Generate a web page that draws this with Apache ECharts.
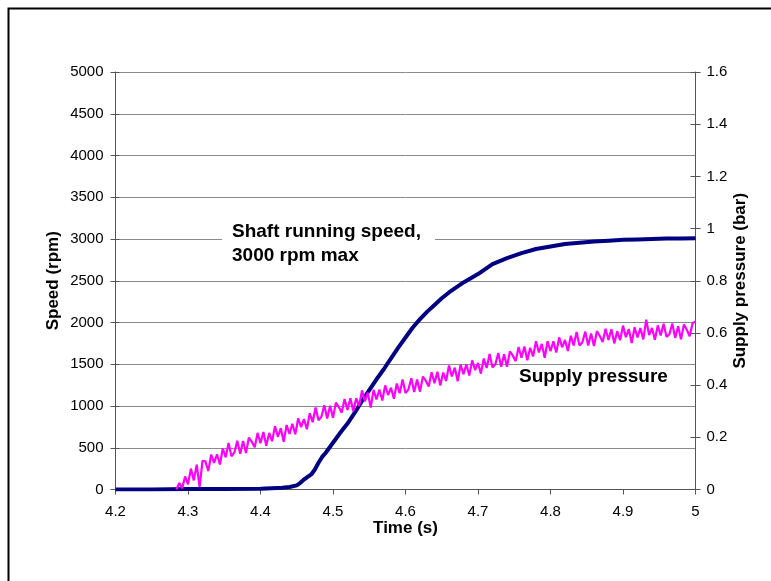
<!DOCTYPE html>
<html>
<head>
<meta charset="utf-8">
<script src="https://cdn.jsdelivr.net/npm/echarts@6/dist/echarts.min.js"></script>
<style>html,body{margin:0;padding:0;background:#fff;}#c{width:771px;height:581px;}</style>
</head>
<body>
<div id="c"></div>
<script>
// Time axis ticks
const timeTicks = [4.2, 4.3, 4.4, 4.5, 4.6, 4.7, 4.8, 4.9, 5.0];
// Shaft running speed (rpm) vs time (s)
const speedTime = [4.20, 4.25, 4.30, 4.35, 4.40, 4.43, 4.44, 4.45, 4.455, 4.46, 4.465, 4.47, 4.475, 4.48, 4.485, 4.49, 4.495, 4.50, 4.51, 4.52, 4.53, 4.54, 4.55, 4.56, 4.57, 4.58, 4.59, 4.60, 4.61, 4.62, 4.63, 4.64, 4.65, 4.66, 4.67, 4.68, 4.69, 4.70, 4.72, 4.74, 4.76, 4.78, 4.80, 4.82, 4.84, 4.86, 4.88, 4.90, 4.92, 4.94, 4.96, 4.98, 5.00];
const speedRpm = [0, 0, 5, 5, 10, 20, 30, 50, 80, 120, 150, 180, 240, 320, 390, 440, 500, 560, 680, 790, 920, 1060, 1190, 1320, 1440, 1570, 1700, 1820, 1940, 2040, 2130, 2210, 2290, 2360, 2420, 2480, 2530, 2580, 2700, 2770, 2830, 2880, 2910, 2940, 2955, 2970, 2980, 2990, 2995, 3000, 3005, 3005, 3010];
// Supply pressure (bar), sampled every 0.004 s starting at 4.284 s
const pressureStart = 4.284;
const pressureStep = 0.004;
const pressureBar = [
  0.00, 0.025, 0.005, 0.05, 0.02, 0.08, 0.035, 0.095, 0.01, 0.11,
  0.108, 0.071, 0.134, 0.102, 0.135, 0.096, 0.157, 0.123, 0.178, 0.127,
  0.142, 0.187, 0.137, 0.186, 0.14, 0.199, 0.183, 0.162, 0.217, 0.177,
  0.22, 0.168, 0.217, 0.185, 0.243, 0.202, 0.235, 0.183, 0.247, 0.213,
  0.252, 0.212, 0.273, 0.239, 0.27, 0.231, 0.292, 0.258, 0.314, 0.265,
  0.279, 0.323, 0.272, 0.321, 0.275, 0.333, 0.316, 0.294, 0.347, 0.305,
  0.35, 0.30, 0.35, 0.32, 0.38, 0.338, 0.371, 0.314, 0.382, 0.345,
  0.383, 0.341, 0.399, 0.362, 0.39, 0.348, 0.406, 0.369, 0.422, 0.37,
  0.383, 0.426, 0.374, 0.422, 0.375, 0.433, 0.417, 0.395, 0.449, 0.407,
  0.451, 0.399, 0.448, 0.416, 0.475, 0.433, 0.467, 0.415, 0.479, 0.442,
  0.48, 0.437, 0.495, 0.458, 0.485, 0.444, 0.502, 0.466, 0.519, 0.468,
  0.48, 0.523, 0.47, 0.518, 0.47, 0.529, 0.513, 0.492, 0.546, 0.505,
  0.548, 0.495, 0.543, 0.51, 0.568, 0.525, 0.558, 0.505, 0.568, 0.53,
  0.568, 0.525, 0.583, 0.545, 0.573, 0.531, 0.589, 0.552, 0.604, 0.552,
  0.564, 0.605, 0.552, 0.598, 0.55, 0.607, 0.588, 0.565, 0.616, 0.573,
  0.614, 0.56, 0.606, 0.572, 0.628, 0.584, 0.615, 0.561, 0.622, 0.583,
  0.619, 0.575, 0.651, 0.592, 0.619, 0.574, 0.629, 0.59, 0.635, 0.585,
  0.595, 0.636, 0.581, 0.626, 0.576, 0.632, 0.612, 0.587, 0.638, 0.643
];
const speedTicks = [0, 500, 1000, 1500, 2000, 2500, 3000, 3500, 4000, 4500, 5000];
const pressureTicks = [0, 0.2, 0.4, 0.6, 0.8, 1, 1.2, 1.4, 1.6];
const labels = {
  xTitle: 'Time (s)',
  yLeftTitle: 'Speed (rpm)',
  yRightTitle: 'Supply pressure (bar)',
  speedNote: 'Shaft running speed,\n3000 rpm max',
  pressureNote: 'Supply pressure'
};

const FONT = '"Liberation Sans", Arial, Helvetica, sans-serif';
const speedData = speedTime.map((t, i) => [t, speedRpm[i]]);
const pressureData = pressureBar.map((p, i) => [+(pressureStart + i * pressureStep).toFixed(3), p]);

const chart = echarts.init(document.getElementById('c'), null, { renderer: 'canvas' });
const axisLineStyle = { color: '#555', width: 1 };
const tickLbl = { color: '#000', fontSize: 15, fontFamily: FONT };
const titleStyle = { color: '#000', fontSize: 17, fontWeight: 'bold', fontFamily: FONT };
const fmt = v => String(+(+v).toFixed(1));

chart.setOption({
  animation: false,
  backgroundColor: '#fff',
  grid: { left: 115.5, right: 75.5, top: 72, bottom: 91.5, containLabel: false, outerBoundsMode: 'none' },
  xAxis: {
    type: 'value',
    min: timeTicks[0], max: timeTicks[timeTicks.length - 1], interval: 0.1,
    axisLine: { show: true, lineStyle: axisLineStyle },
    axisTick: { show: true, inside: false, length: 5, lineStyle: axisLineStyle },
    splitLine: { show: false },
    axisLabel: Object.assign({ margin: 15, formatter: fmt }, tickLbl),
    name: labels.xTitle, nameLocation: 'middle', nameGap: 30, nameMoveOverlap: false, nameTextStyle: titleStyle
  },
  yAxis: [
    {
      type: 'value', position: 'left', min: speedTicks[0], max: speedTicks[speedTicks.length - 1], interval: 500,
      axisLine: { show: true, lineStyle: axisLineStyle },
      axisTick: { show: true, inside: false, length: 5, lineStyle: axisLineStyle },
      splitLine: { show: true, lineStyle: { color: '#8a8a8a', width: 1 } },
      axisLabel: Object.assign({ margin: 12, formatter: v => String(v) }, tickLbl),
      name: labels.yLeftTitle, nameLocation: 'middle', nameRotate: 90, nameGap: 54, nameMoveOverlap: false, nameTextStyle: titleStyle
    },
    {
      type: 'value', position: 'left', min: speedTicks[0], max: speedTicks[speedTicks.length - 1], interval: 500,
      axisLine: { show: false }, axisTick: { show: true, inside: true, length: 4, lineStyle: axisLineStyle },
      splitLine: { show: false }, axisLabel: { show: false }
    },
    {
      type: 'value', position: 'right', min: pressureTicks[0], max: pressureTicks[pressureTicks.length - 1], interval: 0.2,
      axisLine: { show: true, lineStyle: axisLineStyle },
      axisTick: { show: true, inside: false, length: 5, lineStyle: axisLineStyle },
      splitLine: { show: false },
      axisLabel: Object.assign({ margin: 11, formatter: fmt }, tickLbl),
      name: labels.yRightTitle, nameLocation: 'middle', nameRotate: 90, nameGap: 36, nameMoveOverlap: false, nameTextStyle: titleStyle
    },
    {
      type: 'value', position: 'right', min: pressureTicks[0], max: pressureTicks[pressureTicks.length - 1], interval: 0.2,
      axisLine: { show: false }, axisTick: { show: true, inside: true, length: 5, lineStyle: axisLineStyle },
      splitLine: { show: false }, axisLabel: { show: false }
    }
  ],
  series: [
    {
      type: 'line', yAxisIndex: 0, data: speedData, showSymbol: false, smooth: false,
      lineStyle: { color: '#000080', width: 4 }, itemStyle: { color: '#000080' }, z: 3
    },
    {
      type: 'line', yAxisIndex: 2, data: pressureData, showSymbol: false, smooth: false,
      lineStyle: { color: '#ff00ff', width: 2.2 }, itemStyle: { color: '#ff00ff' }, z: 4
    }
  ],
  graphic: [
    { type: 'rect', left: 6, top: 6, shape: { width: 820, height: 620 }, style: { fill: 'none', stroke: '#000', lineWidth: 2 }, z: 10 },
    { type: 'rect', left: 222, top: 226, shape: { width: 213, height: 40 }, style: { fill: '#fff' }, z: 20 },
    { type: 'text', left: 232, top: 220, style: { text: labels.speedNote, fill: '#000', fontSize: 19, fontWeight: 'bold', fontFamily: FONT, lineHeight: 24 }, z: 21 },
    { type: 'text', left: 519, top: 367, style: { text: labels.pressureNote, fill: '#000', fontSize: 19, fontWeight: 'bold', fontFamily: FONT }, z: 21 }
  ]
});
</script>
</body>
</html>
